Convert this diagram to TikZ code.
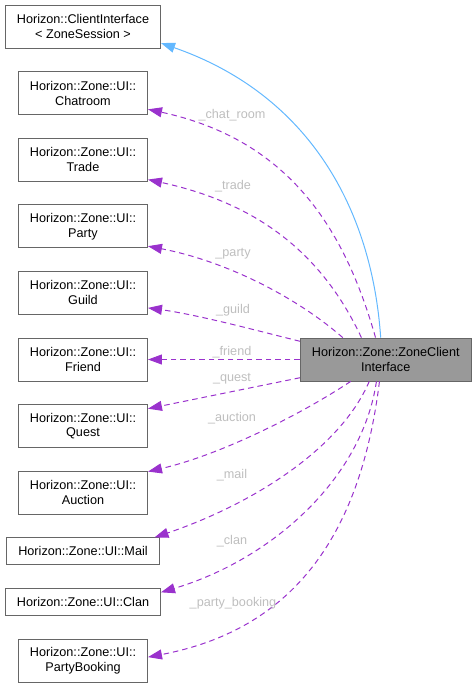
\documentclass[tikz,border=0pt]{standalone}
\usepackage{fontspec}
\setmainfont{Liberation Sans}
\usetikzlibrary{arrows.meta,positioning}
\definecolor{orchid}{HTML}{9A32CD}
\definecolor{steel}{HTML}{63B8FF}
\definecolor{boxline}{HTML}{666666}
\definecolor{focusfill}{HTML}{999999}
\definecolor{lblgrey}{HTML}{BEBEBE}
\tikzset{
  cls/.style={draw=boxline,fill=white,line width=0.8bp,minimum height=43bp,
              inner xsep=11.5bp,inner ysep=2bp,align=center,
              font=\fontsize{12.7}{15}\selectfont},
  cls1/.style={cls,minimum height=27bp},
  focus/.style={cls,fill=focusfill},
  lbl/.style={text=lblgrey,inner sep=0pt,font=\fontsize{12.7}{15}\selectfont},
  member/.style={-{Triangle[length=14bp,width=10bp]},draw=orchid,line width=1bp,
                 dash pattern=on 5.5bp off 4bp},
  inherit/.style={-{Triangle[length=14bp,width=10bp]},draw=steel,line width=1bp}
}
\begin{document}
\begin{tikzpicture}[x=1bp,y=-1bp,node distance=22.8bp]
\useasboundingbox (0,0) rectangle (476,688);
\node[cls] (ci) at (83,26.5) {Horizon::ClientInterface\\< ZoneSession >};
\node[cls,below=of ci] (chat) {Horizon::Zone::UI::\\Chatroom};
\node[cls,below=of chat] (trade) {Horizon::Zone::UI::\\Trade};
\node[cls,below=of trade] (party) {Horizon::Zone::UI::\\Party};
\node[cls,below=of party] (guild) {Horizon::Zone::UI::\\Guild};
\node[cls,below=of guild] (friend) {Horizon::Zone::UI::\\Friend};
\node[cls,below=of friend] (quest) {Horizon::Zone::UI::\\Quest};
\node[cls,below=of quest] (auction) {Horizon::Zone::UI::\\Auction};
\node[cls1,below=of auction] (mail) {Horizon::Zone::UI::Mail};
\node[cls1,below=of mail] (clan) {Horizon::Zone::UI::Clan};
\node[cls,below=of clan] (booking) {Horizon::Zone::UI::\\PartyBooking};
\node[focus,right=152bp of friend] (zci) {Horizon::Zone::ZoneClient\\Interface};
\draw[inherit] (zci.103) .. controls (372,210) and (310,95) .. (ci.348);
\draw[member] (zci.115) .. controls (345,230) and (290,140) .. (chat.346);
\draw[member] (zci.138) .. controls (325,260) and (265,205) .. (trade.343);
\draw[member] (zci.153) .. controls (300,300) and (230,262) .. (party.343);
\draw[member] (zci.168) .. controls (270,334) and (200,315) .. (guild.347);
\draw[member] (zci) -- (friend);
\draw[member] (zci.192) -- (quest.15);
\draw[member] (zci.212) .. controls (300,415) and (220,455) .. (auction.18);
\draw[member] (zci.233) .. controls (340,450) and (250,505) .. (mail.11);
\draw[member] (zci.247) .. controls (362,480) and (270,560) .. (clan.7);
\draw[member] (zci.254) .. controls (360,540) and (290,630) .. (booking.3);
\node[lbl] (lchat) at (232,115) {\_chat\_room};
\node[lbl] (ltrade) at (233,186) {\_trade};
\node[lbl] (lparty) at (233,254) {\_party};
\node[lbl] (lguild) at (233,310) {\_guild};
\node[lbl] (lfriend) at (232,352) {\_friend};
\node[lbl] (lquest) at (232,379) {\_quest};
\node[lbl] (lauction) at (232,418) {\_auction};
\node[lbl] (lmail) at (232,475) {\_mail};
\node[lbl] (lclan) at (232,541) {\_clan};
\node[lbl] (lbooking) at (233,603) {\_party\_booking};
\end{tikzpicture}
\end{document}
